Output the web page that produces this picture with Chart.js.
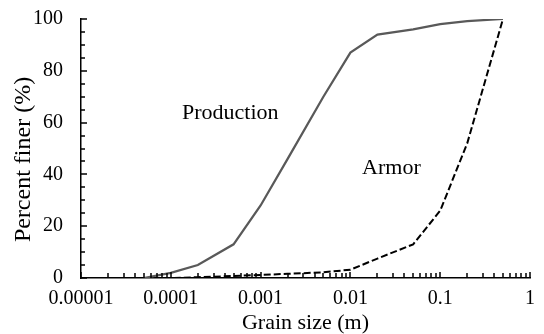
<!DOCTYPE html>
<html>
<head>
<meta charset="utf-8">
<script src="https://cdn.jsdelivr.net/npm/chart.js@4.4.0/dist/chart.umd.min.js"></script>
<style>
    html, body { margin: 0; padding: 0; background: #fff; }
    #wrap { width: 544px; height: 334px; }
</style>
</head>
<body>
<div id="wrap"><canvas id="gsdChart"></canvas></div>
<script>
// Grain size distribution (grain size in m, percent finer)
const grainSizes = [0.00005, 0.0001, 0.0002, 0.0005, 0.001, 0.002, 0.005, 0.01, 0.02, 0.05, 0.1, 0.2, 0.5];
const productionFiner = [0, 2, 5, 13, 28, 46, 70, 87, 94, 96, 98, 99.2, 100];
const armorFiner = [0, 0, 0.3, 0.8, 1.2, 1.6, 2.2, 3.2, 7.5, 13, 26, 52, 100];
const seriesNames = ['Production', 'Armor'];

const xDecades = [0.00001, 0.0001, 0.001, 0.01, 0.1, 1];
const xTickLabels = ['0.00001', '0.0001', '0.001', '0.01', '0.1', '1'];
const yTickLabels = [0, 20, 40, 60, 80, 100];

const serif = "'Liberation Serif', 'Times New Roman', serif";

const toPoints = (ys) => grainSizes.map((x, i) => ({ x: x, y: ys[i] }));

// ticks point into the plot, like the original; labels are placed at the series
const axisExtras = {
    id: 'axisExtras',
    afterDraw(chart, args, opts) {
        const ctx = chart.ctx;
        const { left, top, bottom } = chart.chartArea;
        const xs = chart.scales.x;
        const ys = chart.scales.y;

        ctx.save();
        ctx.strokeStyle = '#000';
        ctx.lineWidth = 1.5;
        ctx.beginPath();
        xs.ticks.forEach(t => {
            const px = Math.round(xs.getPixelForValue(t.value));
            const len = t.major ? 6 : 5;
            ctx.moveTo(px, bottom);
            ctx.lineTo(px, bottom - len);
        });
        ys.ticks.forEach(t => {
            const py = Math.round(ys.getPixelForValue(t.value));
            const len = yTickLabels.includes(t.value) ? 6 : 4;
            ctx.moveTo(left, py);
            ctx.lineTo(left + len, py);
        });
        ctx.stroke();

        ctx.fillStyle = '#000';
        ctx.font = '22px ' + serif;
        ctx.textAlign = 'center';
        ctx.textBaseline = 'middle';
        opts.notes.forEach(n => {
            ctx.fillText(n.text, xs.getPixelForValue(n.x), ys.getPixelForValue(n.y));
        });

        // y axis title, sits a little below the middle of the plot
        ctx.font = '24px ' + serif;
        ctx.translate(24, (top + bottom) / 2 + 11);
        ctx.rotate(-Math.PI / 2);
        ctx.fillText(opts.yTitle, 0, 0);
        ctx.restore();
    }
};

const ctx = document.getElementById('gsdChart').getContext('2d');

new Chart(ctx, {
    type: 'line',
    data: {
        datasets: [{
            label: seriesNames[0],
            data: toPoints(productionFiner),
            borderColor: '#595959',
            borderWidth: 2.25,
            pointRadius: 0,
            tension: 0
        }, {
            label: seriesNames[1],
            data: toPoints(armorFiner),
            borderColor: '#000',
            borderWidth: 2,
            borderDash: [7, 3],
            pointRadius: 0,
            tension: 0
        }]
    },
    options: {
        responsive: true,
        maintainAspectRatio: false,
        animation: false,
        layout: {
            padding: { top: 19, right: 14, left: 0, bottom: 0 }
        },
        plugins: {
            legend: { display: false },
            tooltip: { enabled: false },
            axisExtras: {
                yTitle: 'Percent finer (%)',
                notes: [
                    { text: seriesNames[0], x: 0.00046, y: 63.8 },
                    { text: seriesNames[1], x: 0.0286, y: 42.5 }
                ]
            }
        },
        scales: {
            x: {
                type: 'logarithmic',
                min: 0.00001,
                max: 1,
                afterBuildTicks: (scale) => {
                    const ticks = [];
                    xDecades.forEach((d, i) => {
                        ticks.push({ value: d, major: true, decade: i });
                        if (i < xDecades.length - 1) {
                            for (let m = 2; m <= 9; m++) ticks.push({ value: m * d, major: false });
                        }
                    });
                    scale.ticks = ticks;
                },
                afterFit: (scale) => { scale.height = 56; },
                grid: { display: true, drawOnChartArea: false, drawTicks: false },
                border: { display: true, color: '#000', width: 1.5 },
                ticks: {
                    autoSkip: false,
                    maxRotation: 0,
                    padding: 9,
                    color: '#000',
                    font: { family: serif, size: 20 },
                    callback: (value, index, ticks) => {
                        const t = ticks[index];
                        return t.major ? xTickLabels[t.decade] : '';
                    }
                },
                title: {
                    display: true,
                    text: 'Grain size (m)',
                    color: '#000',
                    font: { family: serif, size: 22, lineHeight: 1 },
                    padding: 0
                }
            },
            y: {
                min: 0,
                max: 100,
                afterFit: (scale) => {
                    scale.width = 81;
                    // label padding would otherwise push the plot top down
                    scale.paddingTop = 0;
                    scale.paddingBottom = 0;
                },
                grid: { display: true, drawOnChartArea: false, drawTicks: false },
                border: { display: true, color: '#000', width: 1.5 },
                ticks: {
                    stepSize: 5,
                    autoSkip: false,
                    padding: 18,
                    color: '#000',
                    font: { family: serif, size: 20 },
                    callback: (value) => yTickLabels.includes(value) ? value : ''
                }
            }
        }
    },
    plugins: [axisExtras]
});
</script>
</body>
</html>
